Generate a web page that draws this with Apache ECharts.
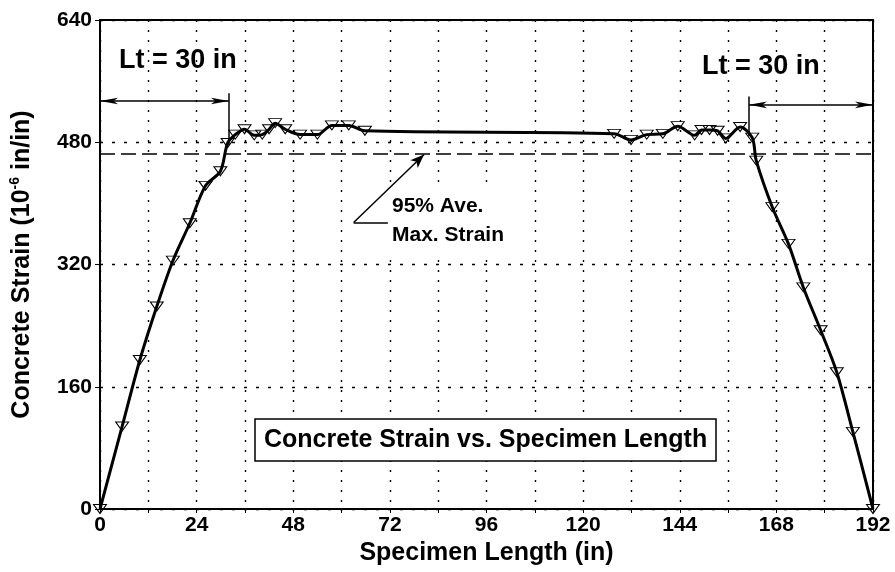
<!DOCTYPE html>
<html>
<head>
<meta charset="utf-8">
<script src="https://cdn.jsdelivr.net/npm/echarts@6/dist/echarts.min.js"></script>
<style>
  html, body { margin: 0; padding: 0; background: #fff; }
  #main { width: 895px; height: 572px; }
</style>
</head>
<body>
<div id="main"></div>
<script>
// specimen position (in) and measured concrete strain (10^-6 in/in)
const positions = [0, 5.5, 9.9, 14.1, 18.1, 22.3, 26.2, 29.9, 31.7, 33.6, 35.9, 38.3, 40.3, 42, 43.5, 46,
  49.7, 54, 57.6, 61.8, 65.8, 127.7, 131.9, 135.8, 139.8, 143.5, 147.7, 149.4, 151.4, 153.4, 155.4,
  159, 162, 163, 167, 171, 174.7, 179, 183, 187, 192];
const strains = [0, 108, 195, 265, 325, 374, 423, 442, 479, 490, 497, 489, 490, 497, 505, 497,
  490, 490, 502, 502, 495, 491, 483, 490, 491, 501, 489, 496, 496, 495, 485,
  500, 486, 456, 395, 347, 290, 234, 179, 101, 0];

const avgMaxStrain95 = 465;     // 95% of average max strain
const transferLength = 30;      // Lt
const xTicks = [0, 24, 48, 72, 96, 120, 144, 168, 192];
const yTicks = [0, 160, 320, 480, 640];

const FONT = "'Liberation Sans', Arial, sans-serif";
const chart = echarts.init(document.getElementById('main'));

const data = positions.map((x, i) => [x, strains[i]]);

chart.setOption({
  animation: false,
  backgroundColor: '#fff',
  grid: {
    left: 98, right: 22, top: 20, bottom: 63,
    show: true, borderColor: '#000', borderWidth: 2
  },
  title: [
    {
      text: 'Lt = ' + transferLength + ' in', left: 119, top: 47, padding: 0,
      textStyle: { fontFamily: FONT, fontWeight: 'bold', fontSize: 27, color: '#000' }
    },
    {
      text: 'Lt = ' + transferLength + ' in', left: 702, top: 53, padding: 0,
      textStyle: { fontFamily: FONT, fontWeight: 'bold', fontSize: 27, color: '#000' }
    },
    {
      text: '95% Ave.\nMax. Strain', left: 389, top: 190, padding: [2, 3],
      backgroundColor: '#fff',
      textStyle: { fontFamily: FONT, fontWeight: 'bold', fontSize: 21, lineHeight: 29, color: '#000' }
    },
    {
      text: 'Concrete Strain vs. Specimen Length', left: 255, top: 419,
      padding: [6, 9], borderColor: '#000', borderWidth: 1.5, backgroundColor: '#fff',
      textStyle: { fontFamily: FONT, fontWeight: 'bold', fontSize: 25, lineHeight: 30, color: '#000' }
    }
  ],
  xAxis: {
    type: 'value', min: 0, max: 192, interval: 12,
    name: 'Specimen Length (in)', nameLocation: 'middle', nameGap: 30,
    nameTextStyle: { fontFamily: FONT, fontWeight: 'bold', fontSize: 25, color: '#000' },
    axisLine: { lineStyle: { color: '#000', width: 2 } },
    axisTick: { show: true, length: 4, lineStyle: { color: '#000' } },
    axisLabel: {
      fontFamily: FONT, fontWeight: 'bold', fontSize: 21, color: '#000', margin: 6,
      formatter: v => xTicks.includes(v) ? String(v) : ''
    },
    splitLine: { show: true, lineStyle: { color: '#000', width: 1.4, type: [2, 8] } }
  },
  yAxis: {
    type: 'value', min: 0, max: 640, interval: 160,
    name: '{a|Concrete Strain (10}{s|-6}{a| in/in)}', nameLocation: 'middle', nameGap: 64,
    nameTextStyle: {
      rich: {
        a: { fontFamily: FONT, fontWeight: 'bold', fontSize: 25, color: '#000', lineHeight: 28 },
        s: { fontFamily: FONT, fontWeight: 'bold', fontSize: 14, color: '#000', verticalAlign: 'top', lineHeight: 14 }
      }
    },
    axisLine: { show: true, lineStyle: { color: '#000', width: 2 } },
    axisTick: { show: true, length: 5, lineStyle: { color: '#000' } },
    axisLabel: {
      fontFamily: FONT, fontWeight: 'bold', fontSize: 21, color: '#000', margin: 8,
      formatter: v => yTicks.includes(v) ? String(v) : ''
    },
    splitLine: { show: true, lineStyle: { color: '#000', width: 1.4, type: [3, 9] } }
  },
  series: [
    {
      type: 'line',
      data: data,
      smooth: 0.3,
      symbol: 'triangle',
      symbolRotate: 180,
      symbolSize: [13, 9],
      showAllSymbol: true,
      itemStyle: { color: 'rgba(255,255,255,0)', borderColor: '#000', borderWidth: 1 },
      lineStyle: { color: '#000', width: 3 },
      z: 5,
      markLine: {
        silent: true,
        symbol: 'none',
        label: { show: false },
        lineStyle: { color: '#000', width: 1.5, type: 'solid' },
        data: [
          // 95% average max strain
          [
            { coord: [0, avgMaxStrain95], lineStyle: { type: [15, 6], width: 1.6, color: '#000' } },
            { coord: [192, avgMaxStrain95] }
          ],
          // left Lt dimension
          [
            { coord: [0, 534], symbol: 'arrow', symbolSize: [5, 18] },
            { coord: [32, 534], symbol: 'arrow', symbolSize: [5, 18] }
          ],
          [{ coord: [32, 544] }, { coord: [32, 476] }],
          // right Lt dimension
          [
            { coord: [192 - transferLength - 0.8, 529], symbol: 'arrow', symbolSize: [5, 18] },
            { coord: [192, 529], symbol: 'arrow', symbolSize: [5, 18] }
          ],
          [{ coord: [192 - transferLength - 0.8, 540] }, { coord: [192 - transferLength - 0.8, 488] }],
          // leader for the 95% note
          [{ coord: [63, 375] }, { coord: [71.5, 375] }],
          [
            { coord: [63, 375] },
            { coord: [80.5, avgMaxStrain95 - 1], symbol: 'arrow', symbolSize: [8, 14] }
          ]
        ]
      }
    }
  ]
});
</script>
</body>
</html>
